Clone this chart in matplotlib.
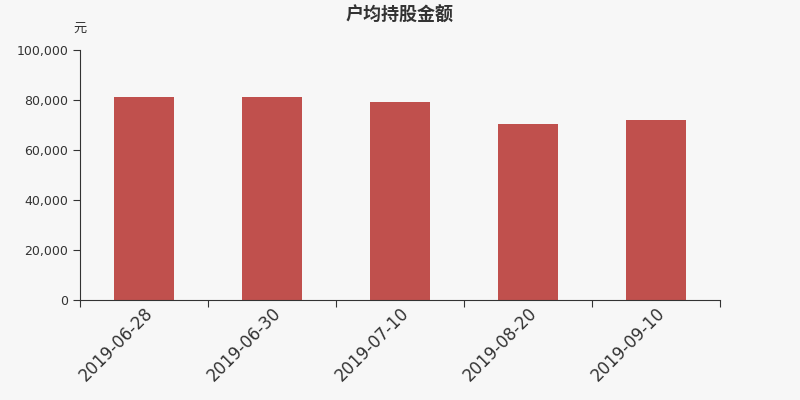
import numpy as np
import matplotlib
matplotlib.use("Agg")
import matplotlib.pyplot as plt
from matplotlib.ticker import FuncFormatter, FixedLocator

plt.rcParams['font.family'] = ['DejaVu Sans', 'Noto Sans CJK SC']

dates = ['2019-06-28', '2019-06-30', '2019-07-10', '2019-08-20', '2019-09-10']
values = [81200, 81200, 79200, 70400, 72100]

fig = plt.figure(figsize=(8, 4), dpi=100, facecolor='#f7f7f7')
ax = fig.add_axes([0.1, 0.25, 0.8, 0.625])
ax.set_facecolor('#f7f7f7')

x = np.arange(len(dates))
ax.bar(x, values, width=0.47, color='#c0504d')

ax.set_xlim(-0.5, len(dates) - 0.5)
ax.set_ylim(0, 100000)
ax.set_yticks(np.arange(0, 100001, 20000))
ax.yaxis.set_major_formatter(FuncFormatter(lambda v, p: f'{int(v):,}'))

# ticks between categories, labels at centers
ax.xaxis.set_major_locator(FixedLocator(np.arange(-0.5, len(dates), 1)))
ax.xaxis.set_major_formatter(FuncFormatter(lambda v, p: ''))
ax.xaxis.set_minor_locator(FixedLocator(x))
ax.set_xticklabels(dates, minor=True, rotation=45, ha='right', rotation_mode='anchor',
                   fontsize=12, color='#333333')
ax.tick_params(axis='x', which='minor', length=0, pad=3)
ax.tick_params(axis='x', which='major', length=5, color='#333333')
ax.tick_params(axis='y', length=5, color='#333333', labelsize=9, labelcolor='#333333')

for s in ['top', 'right']:
    ax.spines[s].set_visible(False)
for s in ['left', 'bottom']:
    ax.spines[s].set_color('#333333')

fig.text(0.5, 0.963, '户均持股金额', ha='center', va='center', fontsize=13,
         fontweight='bold', color='#333333', family=['Noto Sans CJK SC'])
fig.text(0.1, 0.93, '元', ha='center', va='center', fontsize=9.5, color='#333333',
         family=['Noto Sans CJK SC'])

fig.savefig('out.png', dpi=100, facecolor=fig.get_facecolor())
